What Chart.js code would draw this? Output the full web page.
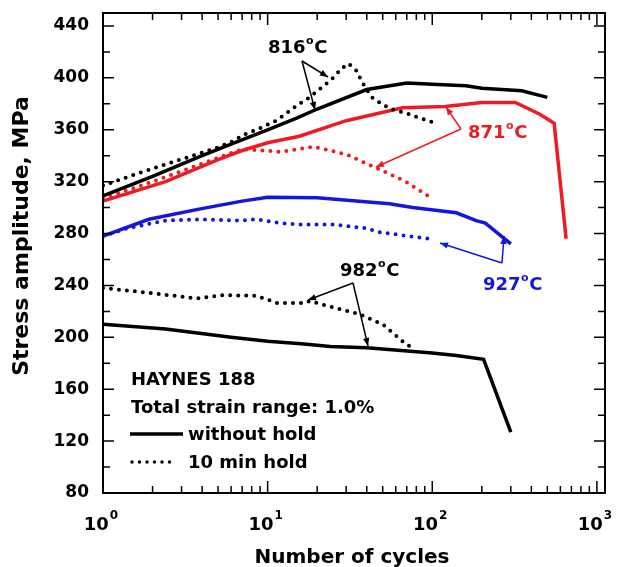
<!DOCTYPE html>
<html>
<head>
<meta charset="utf-8">
<script src="https://cdn.jsdelivr.net/npm/chart.js@4.4.1/dist/chart.umd.min.js"></script>
<style>
  html, body { margin: 0; padding: 0; background: #fff; }
</style>
</head>
<body>
<canvas id="chart" width="622" height="567"></canvas>
<script>
// number of cycles / stress amplitude (MPa)
const n816Solid = [1, 2, 4, 6, 10, 15, 20, 40, 70, 100, 160, 200, 350, 500];
const s816Solid = [309, 324, 340, 349, 360, 369, 376, 391, 396, 395, 394, 392, 390, 385];
const n816Hold = [1, 1.6, 2.5, 3.9, 4.9, 6.1, 7.4, 8.9, 11.3, 15.6, 18, 22, 25, 28, 31, 35, 37, 40, 43, 49, 56, 69, 80, 100];
const s816Hold = [317, 326, 334, 342, 346, 351, 357, 361, 367, 380, 385, 394, 400, 407, 411, 405, 398, 391, 385, 380, 376, 373, 370, 366];

const n871Solid = [1, 2.4, 5, 7, 10, 15.6, 30, 66, 120, 200, 320, 450, 550, 650];
const s871Solid = [305, 320, 337, 344, 350, 355, 367, 377, 378, 381, 381, 372, 365, 276];
const n871Hold = [1, 2, 4, 7, 12, 19, 30, 45, 69, 100];
const s871Hold = [307, 320, 334, 345, 343, 347, 341, 331, 320, 307];

const n927Solid = [1, 1.9, 3.9, 7, 10, 20, 55, 76, 140, 185, 210, 300];
const s927Solid = [278, 291, 299, 305, 308, 307.5, 303, 300, 296, 290, 288, 272];
const n927Hold = [1, 1.4, 2.4, 3.9, 6.8, 8.6, 12, 16, 25, 40, 48, 95];
const s927Hold = [278, 284, 290, 291, 290, 291, 288, 287, 287, 284, 281, 276];

const n982Solid = [1, 2.4, 6, 10, 16, 24, 40, 100, 140, 205, 300];
const s982Solid = [210, 206.5, 200, 197, 195, 193, 192, 188, 186, 183, 127];
const n982Hold = [1, 2, 3.7, 5.3, 8.6, 10, 11.3, 17, 18, 25, 36, 50, 66, 75];
const s982Hold = [238, 234, 230, 232.5, 232, 229, 226.5, 226.5, 228, 223, 218, 210, 197, 192];

const yTicks = [80, 120, 160, 200, 240, 280, 320, 360, 400, 440];
const xDecades = [0, 1, 2, 3];

const RED = '#ec1c24';
const BLUE = '#1515dc';
const FONT = '"DejaVu Sans", sans-serif';

const pts = (xs, ys) => xs.map((x, i) => ({ x: x, y: ys[i] }));

function solid(xs, ys, color) {
    return { data: pts(xs, ys), borderColor: color, borderWidth: 3.5, pointRadius: 0, fill: false };
}
function dotted(xs, ys, color) {
    return {
        data: pts(xs, ys), borderColor: color, borderWidth: 4, pointRadius: 0, fill: false,
        borderDash: [0, 8], borderCapStyle: 'round'
    };
}

function arrow(ctx, x1, y1, x2, y2, color) {
    ctx.strokeStyle = color;
    ctx.fillStyle = color;
    ctx.lineWidth = 1.5;
    ctx.beginPath();
    ctx.moveTo(x1, y1);
    ctx.lineTo(x2, y2);
    ctx.stroke();
    const a = Math.atan2(y2 - y1, x2 - x1), L = 8, w = 3.2;
    ctx.beginPath();
    ctx.moveTo(x2, y2);
    ctx.lineTo(x2 - L * Math.cos(a) + w * Math.sin(a), y2 - L * Math.sin(a) - w * Math.cos(a));
    ctx.lineTo(x2 - L * Math.cos(a) - w * Math.sin(a), y2 - L * Math.sin(a) + w * Math.cos(a));
    ctx.closePath();
    ctx.fill();
}

function tempLabel(ctx, x, base, num, color) {
    ctx.fillStyle = color;
    ctx.textAlign = 'left';
    ctx.textBaseline = 'alphabetic';
    ctx.font = 'bold 18px ' + FONT;
    ctx.fillText(num, x, base);
    const w = ctx.measureText(num).width;
    ctx.font = 'bold 11px ' + FONT;
    ctx.fillText('o', x + w + 0.5, base - 9);
    const wo = ctx.measureText('o').width;
    ctx.font = 'bold 18px ' + FONT;
    ctx.fillText('C', x + w + wo + 1, base);
}

const overlay = {
    id: 'overlay',
    afterDraw(chart) {
        const ctx = chart.ctx;
        const a = chart.chartArea;
        const x = chart.scales.x, y = chart.scales.y;
        ctx.save();

        // frame and inward ticks
        ctx.strokeStyle = '#000';
        ctx.lineWidth = 2;
        ctx.strokeRect(a.left, a.top, a.right - a.left, a.bottom - a.top);
        ctx.lineWidth = 1.5;
        ctx.beginPath();
        for (let v = 80; v <= 440; v += 20) {
            const py = y.getPixelForValue(v);
            const len = v % 40 === 0 ? 11 : 7;
            ctx.moveTo(a.left, py); ctx.lineTo(a.left + len, py);
            ctx.moveTo(a.right, py); ctx.lineTo(a.right - len, py);
        }
        for (let d = 0; d <= 3; d++) {
            for (let m = 1; m <= 9; m++) {
                const v = m * Math.pow(10, d);
                if (v > 1000) break;
                const px = x.getPixelForValue(v);
                const len = m === 1 ? 12 : 7;
                ctx.moveTo(px, a.bottom); ctx.lineTo(px, a.bottom - len);
                ctx.moveTo(px, a.top); ctx.lineTo(px, a.top + len);
            }
        }
        ctx.stroke();

        // x tick labels as powers of ten
        ctx.fillStyle = '#000';
        ctx.textBaseline = 'alphabetic';
        ctx.textAlign = 'left';
        xDecades.forEach(d => {
            const px = x.getPixelForValue(Math.pow(10, d));
            ctx.font = 'bold 18px ' + FONT;
            const w1 = ctx.measureText('10').width;
            ctx.font = 'bold 12px ' + FONT;
            const w2 = ctx.measureText(String(d)).width;
            const start = px - (w1 + w2 + 1) / 2 - 2;
            ctx.font = 'bold 18px ' + FONT;
            ctx.fillText('10', start, 530);
            ctx.font = 'bold 12px ' + FONT;
            ctx.fillText(String(d), start + w1 + 1, 519);
        });

        // axis titles
        ctx.font = 'bold 20px ' + FONT;
        ctx.textAlign = 'center';
        ctx.fillText('Number of cycles', 352, 563);
        ctx.save();
        ctx.translate(28, 236);
        ctx.rotate(-Math.PI / 2);
        ctx.font = 'bold 22px ' + FONT;
        ctx.fillText('Stress amplitude, MPa', 0, 0);
        ctx.restore();

        // temperature labels and arrows
        tempLabel(ctx, 268, 53, '816', '#000');
        arrow(ctx, 302, 61, 315, 110, '#000');
        arrow(ctx, 302, 61, 328, 77, '#000');

        tempLabel(ctx, 468, 138, '871', RED);
        arrow(ctx, 461, 129, 446, 107, RED);
        arrow(ctx, 461, 129, 376, 167, RED);

        tempLabel(ctx, 483, 290, '927', BLUE);
        arrow(ctx, 502, 263, 504, 236, BLUE);
        arrow(ctx, 502, 263, 440, 243, BLUE);

        tempLabel(ctx, 340, 276, '982', '#000');
        arrow(ctx, 353, 283, 308, 300, '#000');
        arrow(ctx, 353, 283, 368, 346, '#000');

        // legend block
        ctx.fillStyle = '#000';
        ctx.textAlign = 'left';
        ctx.font = 'bold 18px ' + FONT;
        ctx.fillText('HAYNES 188', 131, 385);
        ctx.fillText('Total strain range: 1.0%', 131, 413);
        ctx.fillText('without hold', 188, 440);
        ctx.fillText('10 min hold', 188, 468);
        ctx.strokeStyle = '#000';
        ctx.lineWidth = 3.5;
        ctx.beginPath();
        ctx.moveTo(130, 434); ctx.lineTo(183, 434);
        ctx.stroke();
        ctx.setLineDash([0, 7.5]);
        ctx.lineCap = 'round';
        ctx.lineWidth = 3.5;
        ctx.beginPath();
        ctx.moveTo(132, 462); ctx.lineTo(176, 462);
        ctx.stroke();

        ctx.restore();
    }
};

new Chart(document.getElementById('chart'), {
    type: 'line',
    data: {
        datasets: [
            solid(n816Solid, s816Solid, '#000'),
            dotted(n816Hold, s816Hold, '#000'),
            solid(n871Solid, s871Solid, RED),
            dotted(n871Hold, s871Hold, RED),
            solid(n927Solid, s927Solid, BLUE),
            dotted(n927Hold, s927Hold, BLUE),
            solid(n982Solid, s982Solid, '#000'),
            dotted(n982Hold, s982Hold, '#000')
        ]
    },
    options: {
        responsive: false,
        devicePixelRatio: 1,
        animation: false,
        layout: { padding: { top: 13, right: 17, left: 0, bottom: 0 } },
        plugins: { legend: { display: false }, tooltip: { enabled: false } },
        scales: {
            x: {
                type: 'logarithmic',
                min: 1,
                max: 1120,
                grid: { display: false },
                border: { display: false },
                ticks: { display: false },
                afterFit: s => { s.height = 74; s.paddingLeft = 0; s.paddingRight = 0; }
            },
            y: {
                type: 'linear',
                min: 80,
                max: 450,
                grid: { display: false },
                border: { display: false },
                afterBuildTicks: s => { s.ticks = yTicks.map(v => ({ value: v })); },
                ticks: {
                    color: '#000',
                    padding: 6,
                    font: { family: FONT, weight: 'bold', size: 17 }
                },
                afterFit: s => { s.width = 103; s.paddingTop = 0; s.paddingBottom = 0; }
            }
        }
    },
    plugins: [overlay]
});
</script>
</body>
</html>
